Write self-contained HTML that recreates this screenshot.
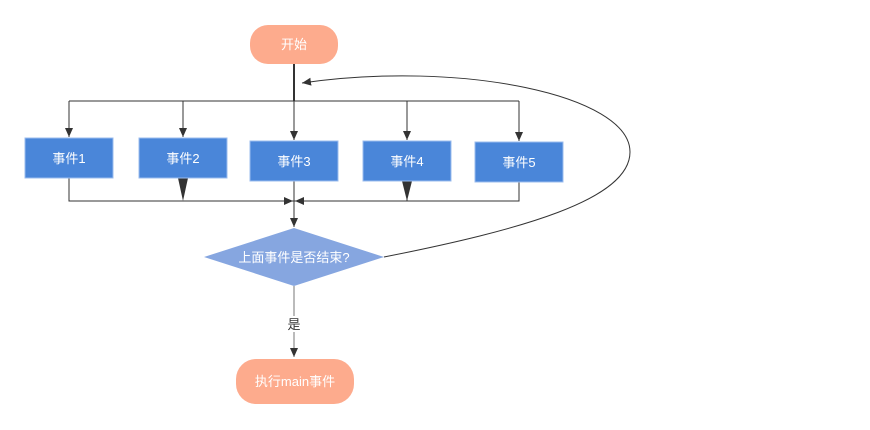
<!DOCTYPE html>
<html><head><meta charset="utf-8"><style>
html,body{margin:0;padding:0;background:#fff;width:870px;height:430px;overflow:hidden}
text{font-family:"Liberation Sans","Noto Sans CJK SC",sans-serif;font-size:13px}
</style></head><body>
<svg width="870" height="430" xmlns="http://www.w3.org/2000/svg">
<defs>
<marker id="a" markerWidth="10" markerHeight="10" refX="9" refY="5" orient="auto" markerUnits="userSpaceOnUse"><path d="M0,1 L9,5 L0,9 z" fill="#333"/></marker>
</defs>
<g stroke="#333" stroke-width="1" fill="none">
<line x1="294" y1="64" x2="294" y2="101" stroke-width="2"/>
<path d="M69,101 H519"/>
<path d="M69,101 V137" marker-end="url(#a)"/>
<path d="M183,101 V137" marker-end="url(#a)"/>
<path d="M294,101 V140" marker-end="url(#a)"/>
<path d="M407,101 V140" marker-end="url(#a)"/>
<path d="M519,101 V141" marker-end="url(#a)"/>
<path d="M69,178 V201 H519 V182"/>
<path d="M407,181 V201"/>
<path d="M294,181 V201"/>
<path d="M294,201 V227" marker-end="url(#a)"/>
<path d="M69,201 H293" marker-end="url(#a)"/>
<path d="M519,201 H295" marker-end="url(#a)"/>
<path d="M384,257 C520,230 630,200 630,152 C630,95 460,60 302,83" marker-end="url(#a)"/>
<path d="M294,286 V357" stroke="#777" marker-end="url(#a)"/>
</g>
<path d="M178,178 L188,178 L183,201 z" fill="#333"/>
<path d="M402,181 L412,181 L407,201 z" fill="#333"/>
<rect x="250" y="25" width="88" height="39" rx="18" fill="#fdab8d"/>
<text x="294" y="49" fill="#fff" text-anchor="middle">开始</text>
<g fill="#4a86d9" stroke="#9bbcee" stroke-width="1">
<rect x="25" y="138" width="88" height="40"/>
<rect x="139" y="138" width="88" height="40"/>
<rect x="250" y="141" width="88" height="40"/>
<rect x="363" y="141" width="88" height="40"/>
<rect x="475" y="142" width="88" height="40"/>
</g>
<g fill="#fff" text-anchor="middle">
<text x="69" y="163">事件1</text>
<text x="183" y="163">事件2</text>
<text x="294" y="166">事件3</text>
<text x="407" y="166">事件4</text>
<text x="519" y="167">事件5</text>
</g>
<polygon points="204,257 294,228 384,257 294,286" fill="#86a6e0"/>
<text x="294" y="262" fill="#fff" text-anchor="middle">上面事件是否结束?</text>
<rect x="286" y="316" width="16" height="16" fill="#fff"/>
<text x="294" y="329" fill="#333" text-anchor="middle">是</text>
<rect x="236" y="359" width="118" height="45" rx="20" fill="#fdab8d"/>
<text x="295" y="386" fill="#fff" text-anchor="middle">执行main事件</text>
</svg>
</body></html>
